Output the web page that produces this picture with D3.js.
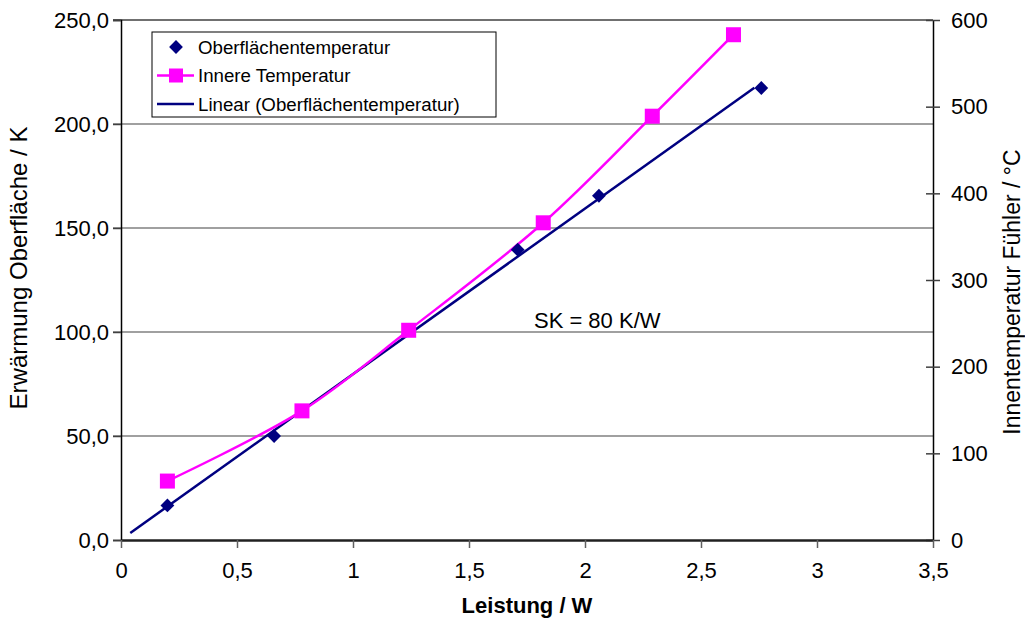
<!DOCTYPE html>
<html>
<head>
<meta charset="utf-8">
<script src="https://cdn.jsdelivr.net/npm/d3@7"></script>
<style>
  body { margin: 0; background: #fff; }
  svg { font-family: "Liberation Sans", Arial, sans-serif; }
</style>
</head>
<body>
<div id="chart"></div>
<script>
// Oberflächentemperatur (Erwärmung in K, linke Achse)
const surfacePower = [0.2, 0.66, 1.71, 2.06, 2.76]
const surfaceTemp = [16.6, 50.0, 139.6, 165.5, 217.3]
// Innere Temperatur (°C, rechte Achse)
const innerPower = [0.2, 0.78, 1.24, 1.82, 2.29, 2.64]
const innerTemp = [68, 149, 242, 366, 489, 583]
// range of the linear trendline
const trendRange = [0.04, 2.73]
// ticks
const xTicks = [0, 0.5, 1, 1.5, 2, 2.5, 3, 3.5]
const leftTicks = [0, 50, 100, 150, 200, 250]
const rightTicks = [0, 100, 200, 300, 400, 500, 600]
const seriesNames = ['Oberflächentemperatur', 'Innere Temperatur', 'Linear (Oberflächentemperatur)']
const note = {x: 1.78, y: 102, text: 'SK = 80 K/W'}

const width = 1025, height = 625
const navy = '#000080', pink = '#FF00FF'

const de = d3.formatLocale({decimal: ',', thousands: '.', grouping: [3], currency: ['', ' €']})

const svg = d3.select('#chart').append('svg')
  .attr('width', width).attr('height', height)

const x = d3.scaleLinear().domain([0, 3.5]).range([121, 933])
const yL = d3.scaleLinear().domain([0, 250]).range([540, 20])
const yR = d3.scaleLinear().domain([0, 600]).range([540, 20])

// horizontal gridlines
svg.append('g').selectAll('line').data(leftTicks.slice(1)).enter().append('line')
  .attr('x1', x(0) - 8).attr('x2', x(3.5))
  .attr('y1', d => yL(d)).attr('y2', d => yL(d))
  .attr('stroke', d => d === 250 ? '#404040' : '#808080').attr('stroke-width', 1.5)

// left axis
const leftAxis = svg.append('g').attr('transform', `translate(${x(0)},0)`)
  .call(d3.axisLeft(yL).tickValues(leftTicks).tickFormat(de.format('.1f')).tickSize(8).tickPadding(4))
leftAxis.select('.domain').attr('stroke', '#000').attr('stroke-width', 1.5)
leftAxis.selectAll('line').attr('stroke', '#404040').attr('stroke-width', 1.5)
leftAxis.selectAll('text').attr('font-size', 22).attr('fill', '#000')

// right axis
const rightAxis = svg.append('g').attr('transform', `translate(${x(3.5)},0)`)
  .call(d3.axisRight(yR).tickValues(rightTicks).tickSizeInner(7).tickSizeOuter(0).tickPadding(11))
rightAxis.select('.domain').attr('stroke', '#000').attr('stroke-width', 1.5)
rightAxis.selectAll('.tick line').attr('x1', -7).attr('stroke', '#404040').attr('stroke-width', 1.5)
rightAxis.selectAll('text').attr('font-size', 22).attr('fill', '#000')

// bottom axis
const bottomAxis = svg.append('g').attr('transform', `translate(0,${yL(0)})`)
  .call(d3.axisBottom(x).tickValues(xTicks).tickFormat(d => de.format('')(d)).tickSize(8).tickSizeOuter(0).tickPadding(14))
bottomAxis.select('.domain').attr('stroke', '#202020').attr('stroke-width', 2.5)
bottomAxis.selectAll('line').attr('stroke', '#606060').attr('stroke-width', 1.5)
bottomAxis.selectAll('text').attr('font-size', 22).attr('fill', '#000')

// axis titles
svg.append('text').attr('x', (x(0) + x(3.5)) / 2).attr('y', 613)
  .attr('text-anchor', 'middle').attr('font-size', 22).attr('font-weight', 'bold')
  .text('Leistung / W')
svg.append('text').attr('transform', 'translate(27,268) rotate(-90)')
  .attr('text-anchor', 'middle').attr('font-size', 24)
  .text('Erwärmung Oberfläche / K')
svg.append('text').attr('transform', 'translate(1020,292) rotate(-90)')
  .attr('text-anchor', 'middle').attr('font-size', 23)
  .text('Innentemperatur Fühler / °C')

// linear trendline (least squares of the surface series)
const mx = d3.mean(surfacePower), my = d3.mean(surfaceTemp)
const sxy = d3.sum(surfacePower, (p, i) => (p - mx) * (surfaceTemp[i] - my))
const sxx = d3.sum(surfacePower, p => (p - mx) * (p - mx))
const slope = sxy / sxx, icpt = my - slope * mx
svg.append('line')
  .attr('x1', x(trendRange[0])).attr('y1', yL(slope * trendRange[0] + icpt))
  .attr('x2', x(trendRange[1])).attr('y2', yL(slope * trendRange[1] + icpt))
  .attr('stroke', navy).attr('stroke-width', 2.5)

// inner temperature, smoothed line
const innerData = innerPower.map((p, i) => ({p: p, t: innerTemp[i]}))
const line = d3.line().x(d => x(d.p)).y(d => yR(d.t)).curve(d3.curveCatmullRom.alpha(0.5))
svg.append('path').datum(innerData).attr('d', line)
  .attr('fill', 'none').attr('stroke', pink).attr('stroke-width', 2.5)
svg.append('g').selectAll('rect').data(innerData).enter().append('rect')
  .attr('x', d => x(d.p) - 7.5).attr('y', d => yR(d.t) - 7.5)
  .attr('width', 15).attr('height', 15).attr('fill', pink)

// surface temperature diamonds
const surfData = surfacePower.map((p, i) => ({p: p, t: surfaceTemp[i]}))
const diamond = d3.symbol().type(d3.symbolSquare).size(95)
svg.append('g').selectAll('path').data(surfData).enter().append('path')
  .attr('d', diamond)
  .attr('transform', d => `translate(${x(d.p)},${yL(d.t)}) rotate(45)`)
  .attr('fill', navy)

// note
svg.append('text').attr('x', x(note.x)).attr('y', yL(note.y))
  .attr('font-size', 22).text(note.text)

// legend
const legend = svg.append('g').attr('transform', 'translate(152,32)')
legend.append('rect').attr('width', 344).attr('height', 85)
  .attr('fill', '#fff').attr('stroke', '#000').attr('stroke-width', 1)
const rows = legend.selectAll('.legends').data(seriesNames).enter().append('g')
  .classed('legends', true)
  .attr('transform', (d, i) => `translate(0,${15 + i * 28.5})`)
rows.append('text').attr('x', 46).attr('y', 6.5).attr('font-size', 18.7).text(d => d)
rows.filter((d, i) => i === 0).append('path').attr('d', diamond)
  .attr('transform', 'translate(24,0) rotate(45)').attr('fill', navy)
rows.filter((d, i) => i > 0).append('line')
  .attr('x1', 5).attr('x2', 42).attr('stroke', (d, i) => i === 0 ? pink : navy).attr('stroke-width', 2.5)
rows.filter((d, i) => i === 1).append('rect')
  .attr('x', 17).attr('y', -7).attr('width', 14).attr('height', 14).attr('fill', pink)
</script>
</body>
</html>
